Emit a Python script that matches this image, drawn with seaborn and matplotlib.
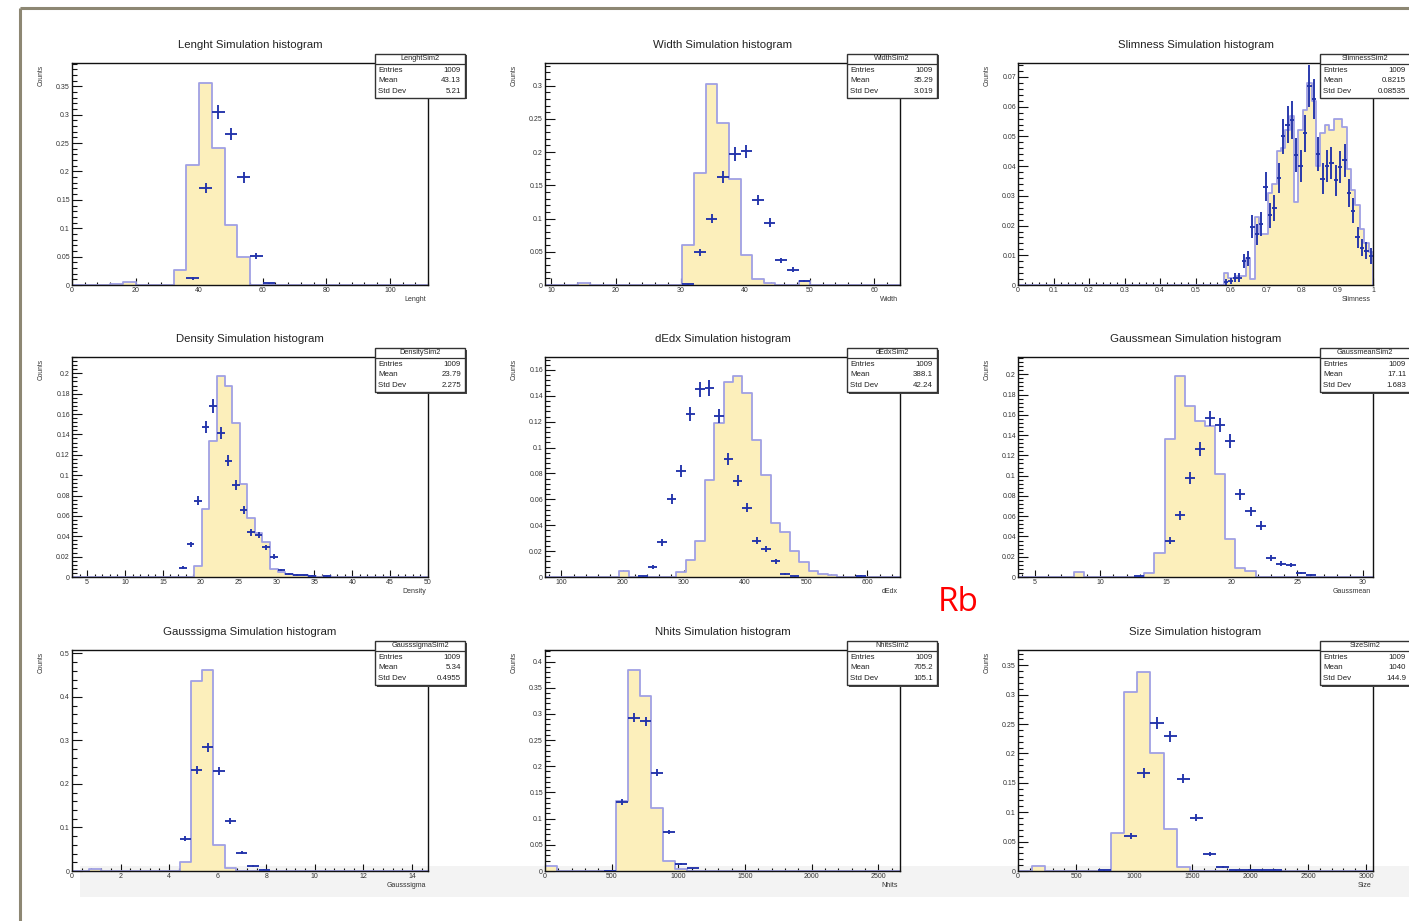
import numpy as np
import matplotlib
matplotlib.use("Agg")
import matplotlib.pyplot as plt
import seaborn as sns
from matplotlib.ticker import MultipleLocator, FuncFormatter
from matplotlib.patches import Rectangle

# ------------------------------------------------------------------ data
TITLES = ["Lenght Simulation histogram", "Width Simulation histogram", "Slimness Simulation histogram",
          "Density Simulation histogram", "dEdx Simulation histogram", "Gaussmean Simulation histogram",
          "Gausssigma Simulation histogram", "Nhits Simulation histogram", "Size Simulation histogram"]
STAT_NAMES = ["LenghtSim2", "WidthSim2", "SlimnessSim2", "DensitySim2", "dEdxSim2",
              "GaussmeanSim2", "GausssigmaSim2", "NhitsSim2", "SizeSim2"]
XLABELS = ["Lenght", "Width", "Slimness", "Density", "dEdx", "Gaussmean", "Gausssigma", "Nhits", "Size"]
ENTRIES = ["1009"] * 9
MEANS = ["43.13", "35.29", "0.8215", "23.79", "388.1", "17.11", "5.34", "705.2", "1040"]
STDDEVS = ["5.21", "3.019", "0.08535", "2.275", "42.24", "1.683", "0.4955", "105.1", "144.9"]

# Lenght
LEN_HIST_X = [14, 18, 34, 38, 42, 46, 50, 54]
LEN_HIST_Y = [0.002, 0.006, 0.026, 0.212, 0.355, 0.241, 0.106, 0.049]
LEN_PTS_X = [38, 42, 46, 50, 54, 58, 62]
LEN_PTS_Y = [0.012, 0.171, 0.305, 0.266, 0.190, 0.051, 0.003]
LEN_PTS_E = [0.0024, 0.009, 0.012, 0.0112, 0.0095, 0.0049, 0.0012]

# Width
WID_HIST_X = [15.0, 31.2, 33.0, 34.8, 36.6, 38.4, 40.2, 42.0, 43.8, 49.2]
WID_HIST_Y = [0.003, 0.060, 0.169, 0.303, 0.244, 0.159, 0.045, 0.0085, 0.0035, 0.006]
WID_PTS_X = [31.2, 33.0, 34.8, 36.6, 38.4, 40.2, 42.0, 43.8, 45.6, 47.4, 49.2]
WID_PTS_Y = [0.001, 0.049, 0.100, 0.163, 0.197, 0.201, 0.128, 0.094, 0.037, 0.023, 0.006]
WID_PTS_E = [0.0007, 0.005, 0.0071, 0.009, 0.0099, 0.010, 0.008, 0.0069, 0.0043, 0.0034, 0.0017]

# Slimness (bins of 1/81)
SLM_HIST_X = [0.57407, 0.58642, 0.59877, 0.61111, 0.62346, 0.63580, 0.64815, 0.66049, 0.67284,
              0.68519, 0.69753, 0.70988, 0.72222, 0.73457, 0.74691, 0.75926, 0.77160, 0.78395,
              0.79630, 0.80864, 0.82099, 0.83333, 0.84568, 0.85802, 0.87037, 0.88272, 0.89506,
              0.90741, 0.91975, 0.93210, 0.94444, 0.95679, 0.96914, 0.98148, 0.99383]
SLM_HIST_Y = [0.0, 0.004, 0.0025, 0.0025, 0.003, 0.003, 0.009, 0.002, 0.023,
              0.017, 0.017, 0.031, 0.034, 0.045, 0.046, 0.052, 0.057, 0.028,
              0.052, 0.059, 0.068, 0.062, 0.040, 0.051, 0.054, 0.052, 0.056,
              0.056, 0.053, 0.039, 0.032, 0.027, 0.019, 0.014, 0.011]
SLM_PTS_X = SLM_HIST_X[1:]
SLM_PTS_Y = [0.001, 0.0014, 0.0025, 0.0025, 0.008, 0.009, 0.0196, 0.017,
             0.0205, 0.033, 0.0234, 0.026, 0.036, 0.050, 0.054, 0.0555, 0.0437,
             0.040, 0.051, 0.067, 0.0625, 0.044, 0.0358, 0.040, 0.041, 0.0352,
             0.0397, 0.042, 0.031, 0.025, 0.016, 0.0126, 0.0115, 0.0098]
SLM_PTS_E = [0.0009, 0.001, 0.0014, 0.0014, 0.0024, 0.0026, 0.0038, 0.0035,
             0.0039, 0.0049, 0.0041, 0.0044, 0.0051, 0.006, 0.0063, 0.0064, 0.0056,
             0.0054, 0.0061, 0.007, 0.0068, 0.0057, 0.0051, 0.0054, 0.0055, 0.0051,
             0.0054, 0.0055, 0.0048, 0.0043, 0.0034, 0.003, 0.0029, 0.0027]

# Density
DEN_HIST_X = [19.65, 20.65, 21.65, 22.65, 23.65, 24.65, 25.65, 26.65, 27.65, 28.65,
              29.65, 30.65, 31.65, 32.65, 33.65, 34.65, 36.65]
DEN_HIST_Y = [0.011, 0.067, 0.134, 0.197, 0.1875, 0.151, 0.091, 0.058, 0.043, 0.034,
              0.008, 0.005, 0.003, 0.002, 0.0015, 0.001, 0.001]
DEN_PTS_X = [17.65, 18.65, 19.65, 20.65, 21.65, 22.65, 23.65, 24.65, 25.65, 26.65,
             27.65, 28.65, 29.65, 30.65, 31.65, 32.65, 33.65, 34.65, 36.65]
DEN_PTS_Y = [0.009, 0.032, 0.075, 0.147, 0.168, 0.141, 0.114, 0.090, 0.066, 0.044,
             0.041, 0.029, 0.020, 0.007, 0.003, 0.002, 0.0015, 0.001, 0.0008]
DEN_PTS_E = [0.0015, 0.0028, 0.0044, 0.0061, 0.0065, 0.006, 0.0054, 0.0048, 0.0041, 0.0033,
             0.0032, 0.0027, 0.0022, 0.0013, 0.0009, 0.0007, 0.0006, 0.0005, 0.0004]

# dEdx
DED_HIST_X = [202.25, 295.25, 310.75, 326.25, 341.75, 357.25, 372.75, 388.25, 403.75,
              419.25, 434.75, 450.25, 465.75, 481.25, 496.75, 512.25, 527.75, 543.25]
DED_HIST_Y = [0.005, 0.004, 0.013, 0.0275, 0.075, 0.119, 0.151, 0.155, 0.142,
              0.106, 0.079, 0.042, 0.035, 0.020, 0.0116, 0.0044, 0.0026, 0.0013]
DED_PTS_X = [233.75, 249.25, 264.75, 280.25, 295.25, 310.75, 326.25, 341.75, 357.25,
             372.75, 388.25, 403.75, 419.25, 434.75, 450.25, 465.75, 481.25, 589.75]
DED_PTS_Y = [0.0005, 0.0077, 0.0267, 0.060, 0.082, 0.126, 0.145, 0.146, 0.1247,
             0.091, 0.0745, 0.0537, 0.028, 0.0219, 0.012, 0.0023, 0.0005, 0.001]
DED_PTS_E = [0.0004, 0.0014, 0.0026, 0.0038, 0.0045, 0.0056, 0.006, 0.006, 0.0055,
             0.0047, 0.0043, 0.0036, 0.0026, 0.0023, 0.0017, 0.0008, 0.0004, 0.0005]

# Gaussmean
GMN_HIST_X = [8.345, 13.735, 14.505, 15.275, 16.045, 16.815, 17.585, 18.355, 19.125,
              19.895, 20.665, 21.435]
GMN_HIST_Y = [0.005, 0.004, 0.024, 0.136, 0.198, 0.169, 0.154, 0.149, 0.102,
              0.037, 0.0089, 0.0056]
GMN_PTS_X = [12.965, 15.275, 16.045, 16.815, 17.585, 18.355, 19.125, 19.895, 20.665,
             21.435, 22.205, 22.975, 23.745, 24.515, 25.285, 26.055]
GMN_PTS_Y = [0.0007, 0.0358, 0.0608, 0.0975, 0.126, 0.1566, 0.150, 0.1337, 0.0818,
             0.0647, 0.0506, 0.0187, 0.0131, 0.0115, 0.0039, 0.0023]
GMN_PTS_E = [0.0005, 0.0036, 0.0047, 0.0059, 0.0067, 0.0075, 0.0073, 0.0069, 0.0054,
             0.0048, 0.0043, 0.0026, 0.0022, 0.002, 0.0012, 0.0009]

# Gausssigma
GSG_HIST_X = [0.9425, 4.6625, 5.1275, 5.5925, 6.0575, 6.5225]
GSG_HIST_Y = [0.004, 0.021, 0.437, 0.461, 0.059, 0.0077]
GSG_PTS_X = [4.6625, 5.1275, 5.5925, 6.0575, 6.5225, 6.9875, 7.4525, 7.9175]
GSG_PTS_Y = [0.0747, 0.2327, 0.284, 0.230, 0.1156, 0.0424, 0.0116, 0.003]
GSG_PTS_E = [0.0053, 0.0094, 0.0104, 0.0094, 0.0066, 0.004, 0.0021, 0.0011]

# Nhits
NHT_HIST_X = [44.35, 576.55, 665.25, 753.95, 842.65, 931.35, 1020.05]
NHT_HIST_Y = [0.0096, 0.133, 0.383, 0.334, 0.120, 0.019, 0.003]
NHT_PTS_X = [487.85, 576.55, 665.25, 753.95, 842.65, 931.35, 1020.05, 1108.75]
NHT_PTS_Y = [0.0005, 0.132, 0.293, 0.286, 0.1875, 0.075, 0.014, 0.005]
NHT_PTS_E = [0.0003, 0.0056, 0.0083, 0.0082, 0.0066, 0.0042, 0.0018, 0.0011]

# Size
SIZ_HIST_X = [176.85, 856.65, 969.95, 1083.25, 1196.55, 1309.85, 1423.15]
SIZ_HIST_Y = [0.0085, 0.065, 0.304, 0.339, 0.200, 0.072, 0.0068]
SIZ_PTS_X = [743.35, 969.95, 1083.25, 1196.55, 1309.85, 1423.15, 1536.45, 1649.75,
             1763.05, 1876.35, 1989.65, 2102.95, 2216.25]
SIZ_PTS_Y = [0.001, 0.059, 0.167, 0.252, 0.229, 0.157, 0.0905, 0.0294,
             0.0068, 0.001, 0.002, 0.001, 0.002]
SIZ_PTS_E = [0.0006, 0.0049, 0.0083, 0.0102, 0.0097, 0.008, 0.0061, 0.0035,
             0.0017, 0.0006, 0.0009, 0.0006, 0.0009]

HISTS = [(LEN_HIST_X, LEN_HIST_Y), (WID_HIST_X, WID_HIST_Y), (SLM_HIST_X, SLM_HIST_Y),
         (DEN_HIST_X, DEN_HIST_Y), (DED_HIST_X, DED_HIST_Y), (GMN_HIST_X, GMN_HIST_Y),
         (GSG_HIST_X, GSG_HIST_Y), (NHT_HIST_X, NHT_HIST_Y), (SIZ_HIST_X, SIZ_HIST_Y)]
POINTS = [(LEN_PTS_X, LEN_PTS_Y, LEN_PTS_E), (WID_PTS_X, WID_PTS_Y, WID_PTS_E),
          (SLM_PTS_X, SLM_PTS_Y, SLM_PTS_E), (DEN_PTS_X, DEN_PTS_Y, DEN_PTS_E),
          (DED_PTS_X, DED_PTS_Y, DED_PTS_E), (GMN_PTS_X, GMN_PTS_Y, GMN_PTS_E),
          (GSG_PTS_X, GSG_PTS_Y, GSG_PTS_E), (NHT_PTS_X, NHT_PTS_Y, NHT_PTS_E),
          (SIZ_PTS_X, SIZ_PTS_Y, SIZ_PTS_E)]

# ------------------------------------------------------------------ layout / style
XLIMS = [(0, 112), (9, 64), (0, 1), (3, 50), (73.4, 653.3), (3.73, 30.76), (0, 14.66), (0, 2662), (0, 3057)]
YTOPS = [0.391, 0.334, 0.0747, 0.216, 0.170, 0.217, 0.508, 0.422, 0.376]
BINS = [(0, 4), (30.3, 1.8), (0, 1 / 81), (19.15, 1), (303, 15.5), (14.12, 0.77), (4.43, 0.465),
        (0, 88.7), (800, 113.3)]
XMAJ = [20, 10, 0.1, 5, 100, 5, 2, 500, 500]
XMIN = [4, 2, 0.02, 1, 20, 1, 0.4, 100, 100]
YMAJ = [0.05, 0.05, 0.01, 0.02, 0.02, 0.02, 0.1, 0.05, 0.05]
YMIN = [0.01, 0.01, 0.002, 0.004, 0.004, 0.004, 0.02, 0.01, 0.01]

COL_L = [72, 545, 1018]
COL_R = [428, 900, 1373]
ROW_T = [63, 357, 650]
ROW_B = [285, 577, 871]

FILL = "#fcefbb"
EDGE = "#a0a0e4"
PTC = "#2233aa"
W, H = 1409, 921

sns.set_theme(style="white")
plt.rcParams["font.family"] = ["Liberation Sans", "DejaVu Sans"]

fig = plt.figure(figsize=(W / 100, H / 100), dpi=100)
fig.patch.set_facecolor("white")

bg = fig.add_axes([0, 0, 1, 1], zorder=-5)
bg.set_xlim(0, W); bg.set_ylim(H, 0); bg.axis("off")
bg.add_patch(Rectangle((80, 866), W - 80, 31, color="#f3f3f3", lw=0))

fg = fig.add_axes([0, 0, 1, 1], zorder=10)
fg.set_xlim(0, W); fg.set_ylim(H, 0); fg.axis("off")

fmt = FuncFormatter(lambda v, p: "%g" % round(v, 6))

for i in range(9):
    r, c = divmod(i, 3)
    L, R, T, B = COL_L[c], COL_R[c], ROW_T[r], ROW_B[r]
    ax = fig.add_axes([L / W, 1 - B / H, (R - L) / W, (B - T) / H])
    ax.set_facecolor("none")

    x0, x1 = XLIMS[i]
    anchor, bw = BINS[i]
    k0 = int(np.floor((x0 - anchor) / bw)) - 1
    k1 = int(np.ceil((x1 - anchor) / bw)) + 1
    edges = [float(anchor + bw * k) for k in range(k0, k1 + 1)]

    hx, hy = HISTS[i]
    data = {"x": list(hx), "w": list(hy)}
    sns.histplot(data=data, x="x", weights="w", bins=edges, element="step", fill=True,
                 color=FILL, alpha=1.0, linewidth=0, ax=ax)
    sns.histplot(data=data, x="x", weights="w", bins=edges, element="step", fill=False,
                 color=EDGE, linewidth=1.3, ax=ax)
    px, py, pe = POINTS[i]
    ax.errorbar(px, py, xerr=bw / 2, yerr=pe, fmt="none", ecolor=PTC,
                elinewidth=1.35, capsize=0, zorder=4)

    ax.set_xlim(x0, x1)
    ax.set_ylim(0, YTOPS[i])
    ax.set_xlabel(""); ax.set_ylabel("")
    ax.xaxis.set_major_locator(MultipleLocator(XMAJ[i]))
    ax.xaxis.set_minor_locator(MultipleLocator(XMIN[i]))
    ax.yaxis.set_major_locator(MultipleLocator(YMAJ[i]))
    ax.yaxis.set_minor_locator(MultipleLocator(YMIN[i]))
    ax.xaxis.set_major_formatter(fmt)
    ax.yaxis.set_major_formatter(fmt)
    ax.tick_params(axis="both", which="both", direction="in", colors="#111111",
                   labelcolor="#333333", labelsize=5.0, pad=1.5, width=0.8,
                   bottom=True, left=True, top=False, right=False)
    ax.tick_params(axis="y", which="major", length=7.5)
    ax.tick_params(axis="y", which="minor", length=3.8)
    ax.tick_params(axis="x", which="major", length=4.8)
    ax.tick_params(axis="x", which="minor", length=2.4)
    for s in ax.spines.values():
        s.set_color("#111111"); s.set_linewidth(1.0); s.set_visible(True)

    # titles and axis labels
    fg.text((L + R) / 2, T - 18, TITLES[i], ha="center", va="center", fontsize=8.2, color="#222222")
    fg.text(L - 31, T + 2, "Counts", rotation=90, ha="center", va="top", fontsize=4.8, color="#333333")
    fg.text(R - 2, B + 14, XLABELS[i], ha="right", va="center", fontsize=5.0, color="#333333")

    # stats box
    bl, bt, bwid, bh = R - 53, T - 9, 90, 44
    fg.add_patch(Rectangle((bl + 1.5, bt + 1.5), bwid, bh, facecolor="#444444", edgecolor="none", zorder=1))
    fg.add_patch(Rectangle((bl, bt), bwid, bh, facecolor="white", edgecolor="#333333", lw=1.0, zorder=2))
    fg.plot([bl, bl + bwid], [bt + 10, bt + 10], color="#333333", lw=0.9, zorder=3)
    fg.text(bl + bwid / 2, bt + 4.8, STAT_NAMES[i], ha="center", va="center", fontsize=5.3, color="#222222", zorder=4)
    for j, (lab, val) in enumerate([("Entries", ENTRIES[i]), ("Mean", MEANS[i]), ("Std Dev", STDDEVS[i])]):
        yy = bt + 16 + 10.8 * j
        fg.text(bl + 3, yy, lab, ha="left", va="center", fontsize=5.7, color="#222222", zorder=4)
        fg.text(bl + bwid - 4, yy, val, ha="right", va="center", fontsize=5.7, color="#222222", zorder=4)

# outer frame of the slide
fg.plot([20, 20], [8, H], color="#8d8773", lw=2.2, solid_capstyle="butt")
fg.plot([20, W], [8, 8], color="#8d8773", lw=2.2, solid_capstyle="butt")

fg.text(958, 602, "Rb", ha="center", va="center", fontsize=24, color="#ff0000", family=["Open Sans", "DejaVu Sans"])

fig.savefig("out.png", dpi=100)
